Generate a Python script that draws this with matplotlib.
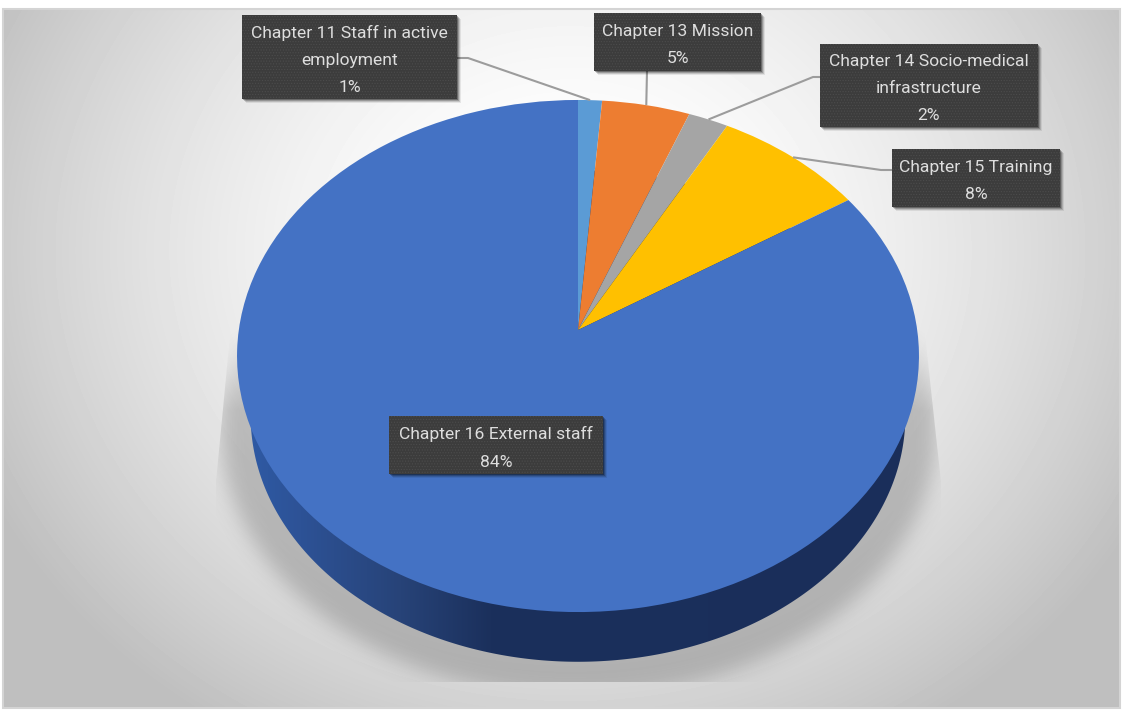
import numpy as np
import matplotlib
matplotlib.use("Agg")
import matplotlib.pyplot as plt
from matplotlib.patches import Polygon, Rectangle
from matplotlib.path import Path
from matplotlib.transforms import Transform

# Budget shares per chapter, in percent, clockwise from twelve o'clock
chapters = ["Chapter 11 Staff in active\nemployment",
            "Chapter 13 Mission",
            "Chapter 14 Socio-medical\ninfrastructure",
            "Chapter 15 Training",
            "Chapter 16 External staff"]
shares = [1.25, 4.6, 2.1, 7.95, 84.1]
colors = ["#5b9bd5", "#ed7d31", "#a5a5a5", "#ffc000", "#4472c4"]

plt.rcParams["hatch.linewidth"] = 0.5

W, H = 1123, 711
CX, CY = 578.0, 330.0      # apex of the pie on the canvas
AX_, AY_ = 339.2, 253.4    # semi-axes before the tilt
TILT = 0.1016
WALL_SCALE, WALL_DROP = 0.96, 61.0


class TiltedDisc(Transform):
    """Projects the unit disc of a flat pie onto a tilted plane, in canvas pixels."""
    input_dims = output_dims = 2
    is_separable = False
    has_inverse = False

    def transform_non_affine(self, values):
        v = np.asarray(values, float)
        w = 1 + TILT * v[:, 1]
        return np.column_stack([CX + AX_ * v[:, 0] / w, CY - AY_ * v[:, 1] / w])


disc = TiltedDisc()


def gaussian_blur(a, sigma):
    fy = np.fft.fftfreq(a.shape[0])[:, None]
    fx = np.fft.rfftfreq(a.shape[1])[None, :]
    kernel = np.exp(-2 * (np.pi * sigma) ** 2 * (fx ** 2 + fy ** 2))
    return np.fft.irfft2(np.fft.rfft2(a) * kernel, s=a.shape)


fig = plt.figure(figsize=(W / 100, H / 100), dpi=100, facecolor="white")
ax = fig.add_axes([0, 0, 1, 1])

# Panel background: radial grey wash with a thin frame
yy, xx = np.mgrid[0:H, 0:W]
r = np.hypot((xx - 570) / 640, (yy - 250) / 560)
drop = np.minimum(75 * np.clip(r - 0.1, 0, None) ** 1.6, 64)
wash = (255 - drop) / 255
bg = ax.imshow(wash, cmap="gray", vmin=0, vmax=1, extent=(0, W, H, 0),
               aspect="auto", zorder=0, interpolation="bilinear")
bg.set_clip_path(Rectangle((3, 9), 1117, 699, transform=ax.transData))
ax.add_patch(Rectangle((3, 9), 1117, 699, fill=False, ec="#d4d4d4", lw=1.5, zorder=1))

# Rim of the lower edge of the disc
theta = np.linspace(0, 2 * np.pi, 720)
rim = disc.transform_non_affine(np.column_stack([np.cos(theta), np.sin(theta)]))
centre = np.array([CX, CY])
lower = centre + WALL_SCALE * (rim - centre) + [0, WALL_DROP]

# Soft shadow below the disc, fading in from the top and cut by its bounding shape
grow = centre + 1.05 * (rim - centre) + [0, 70]
mask = Path(grow).contains_points(np.column_stack([xx.ravel(), yy.ravel()])).reshape(H, W)
soft = gaussian_blur(mask.astype(float), 10)
fade_in = np.clip((yy - 325) / 85, 0, 1)
shadow = np.zeros((H, W, 4))
shadow[..., :3] = 0.25
shadow[..., 3] = 0.27 * np.clip(soft, 0, 1) * fade_in
sh = ax.imshow(shadow, extent=(0, W, H, 0), aspect="auto", zorder=2)
sh.set_clip_path(Polygon([(231, 325), (216, 482), (216, 682), (941, 682),
                          (941, 482), (924, 325)], transform=ax.transData))

# Side wall with a left-to-right shade
ramp_x = np.array([235, 300, 400, 490, 925])
ramp_rgb = np.array([[0x2f, 0x5c, 0xa8], [0x2d, 0x52, 0x96], [0x27, 0x43, 0x78],
                     [0x1b, 0x30, 0x5c], [0x1a, 0x2e, 0x5a]]) / 255
shade = np.stack([np.interp(np.arange(W), ramp_x, ramp_rgb[:, i]) for i in range(3)], axis=-1)
wall = ax.imshow(shade[None, :, :], extent=(0, W, H, 0), aspect="auto", zorder=3)
wall.set_clip_path(Polygon(lower, transform=ax.transData))

# Top face
wedges, _ = ax.pie(shares, colors=colors, startangle=90, counterclock=False,
                   radius=1, center=(0, 0))
for w in wedges:
    w.set_transform(disc + ax.transData)
    w.set_zorder(4)
    w.set_linewidth(0)
    w.set_clip_on(False)

ax.set_aspect("auto")
ax.set_xlim(0, W)
ax.set_ylim(H, 0)
ax.axis("off")

# Rim anchor of each wedge, for the leader lines
edges = np.cumsum([0] + shares)
mids = np.deg2rad((edges[:-1] + edges[1:]) / 2 * 3.6)
anchors = disc.transform_non_affine(np.column_stack([np.sin(mids), np.cos(mids)]))

# Callout boxes: left, top, right, bottom
boxes = [(242, 15, 457, 99), (594, 13, 761, 71), (820, 44, 1038, 127),
         (892, 149, 1060, 207), (389, 416, 603, 474)]
elbows = [[(457, 58), (468, 58)], [(647, 71)], [(820, 77), (813, 77)],
          [(892, 170), (881, 170)], None]

for i, (name, val, box) in enumerate(zip(chapters, shares, boxes)):
    x0, y0, x1, y1 = box
    if elbows[i]:
        pts = np.array(elbows[i] + [tuple(anchors[i])])
        ax.plot(pts[:, 0], pts[:, 1], color="#9c9c9c", lw=1.5, zorder=5,
                solid_capstyle="butt")
    for off, alpha in ((4, 0.08), (3, 0.14), (2, 0.2), (1, 0.3)):
        ax.add_patch(Rectangle((x0 + off, y0 + off), x1 - x0, y1 - y0, fc="black",
                               ec="none", alpha=alpha, zorder=6))
    ax.add_patch(Rectangle((x0, y0), x1 - x0, y1 - y0, fc="#3c3c3c", ec="#4c4c4c",
                           lw=0, hatch="......", zorder=7))
    ax.text((x0 + x1) / 2, (y0 + y1) / 2 + 3, f"{name}\n{val:.0f}%", ha="center", va="center",
            color="#dedede", fontsize=12.6, family="Roboto", linespacing=2.02, zorder=8)

fig.savefig("out.png", dpi=100, facecolor="white")
